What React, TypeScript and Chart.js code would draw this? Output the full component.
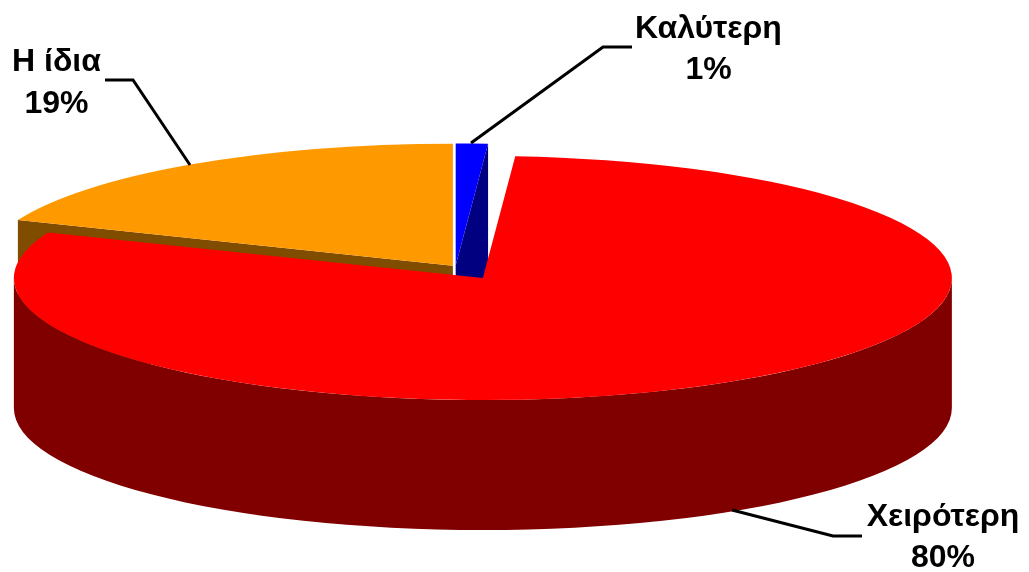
import React, { useEffect, useRef } from "react";
import { Chart, registerables } from "chart.js";

Chart.register(...registerables);

const categories = ["Καλύτερη", "Χειρότερη", "Η ίδια"];
const values = [1.1, 80, 18.9];
const topColors = ["#0000FF", "#FF0000", "#FF9900"];
const sideColors = ["#000080", "#800000", "#804C00"];
const explode = [0.01, 0.11, 0.01];

const W = 1029;
const H = 572;
const R = 280;
const CX = 455.5;
const CY = 266.7;
const RX = 469;
const RY = 122;
const DEPTH = 130;

const FONT = 'bold 32px "Liberation Sans", Arial, sans-serif';
const LINE_GAP = 41.7;
const labelLayout = [
  { x: 708.5, y: 37.5, leader: [[471, 143], [603, 47], [632, 47]] },
  { x: 943, y: 525.5, leader: [[732, 510], [833, 536], [862, 536]] },
  { x: 56.5, y: 71, leader: [[190, 165], [133, 80], [105, 80]] },
];

const pie3d = {
  id: "pie3d",
  beforeDatasetDraw(chart: any) {
    const ctx: CanvasRenderingContext2D = chart.ctx;
    const arcs: any[] = chart.getDatasetMeta(0).data;
    const order = arcs
      .map((arc, i) => ({ i, mid: (arc.startAngle + arc.endAngle) / 2 }))
      .sort((a, b) => Math.sin(a.mid) - Math.sin(b.mid));

    for (const { i, mid } of order) {
      const arc = arcs[i];
      const cx = CX + Math.cos(mid) * explode[i] * RX;
      const cy = CY + Math.sin(mid) * explode[i] * RY;
      const a0 = arc.startAngle;
      const a1 = arc.endAngle;
      ctx.save();
      ctx.fillStyle = sideColors[i];

      const cutFace = (a: number) => {
        const ex = cx + RX * Math.cos(a);
        const ey = cy + RY * Math.sin(a);
        ctx.beginPath();
        ctx.moveTo(cx, cy);
        ctx.lineTo(ex, ey);
        ctx.lineTo(ex, ey + DEPTH);
        ctx.lineTo(cx, cy + DEPTH);
        ctx.closePath();
        ctx.fill();
      };
      if (Math.cos(a0) < -1e-6) cutFace(a0);
      if (Math.cos(a1) > 1e-6) cutFace(a1);

      const from = Math.max(a0, 0);
      const to = Math.min(a1, Math.PI);
      if (to > from) {
        ctx.beginPath();
        ctx.ellipse(cx, cy, RX, RY, 0, from, to);
        ctx.ellipse(cx, cy + DEPTH, RX, RY, 0, to, from, true);
        ctx.closePath();
        ctx.fill();
      }
      ctx.restore();

      ctx.save();
      ctx.translate(cx, cy);
      ctx.scale(RX / R, RY / R);
      ctx.translate(-arc.x, -arc.y);
      arc.draw(ctx);
      ctx.restore();
    }
    return false;
  },
  afterDatasetsDraw(chart: any) {
    const ctx: CanvasRenderingContext2D = chart.ctx;
    ctx.save();
    ctx.strokeStyle = "#000000";
    ctx.lineWidth = 3;
    ctx.lineJoin = "miter";
    ctx.fillStyle = "#000000";
    ctx.font = FONT;
    ctx.textAlign = "center";
    ctx.textBaseline = "alphabetic";
    categories.forEach((name, i) => {
      const l = labelLayout[i];
      ctx.beginPath();
      l.leader.forEach(([x, y], j) => (j ? ctx.lineTo(x, y) : ctx.moveTo(x, y)));
      ctx.stroke();
      ctx.fillText(name, l.x, l.y);
      ctx.fillText(`${Math.round(values[i])}%`, l.x, l.y + LINE_GAP);
    });
    ctx.restore();
  },
};

export default function App() {
  const ref = useRef<HTMLCanvasElement>(null);
  useEffect(() => {
    document.body.style.margin = "0";
    const chart = new Chart(ref.current!, {
      type: "pie",
      data: {
        labels: categories,
        datasets: [
          {
            data: values,
            backgroundColor: topColors,
            borderWidth: 0,
          },
        ],
      },
      options: {
        animation: false,
        responsive: false,
        radius: R,
        layout: { padding: 0 },
        plugins: { legend: { display: false }, tooltip: { enabled: false } },
      } as any,
      plugins: [pie3d as any],
    });
    return () => chart.destroy();
  }, []);
  return <canvas ref={ref} width={W} height={H} style={{ display: "block" }} />;
}
